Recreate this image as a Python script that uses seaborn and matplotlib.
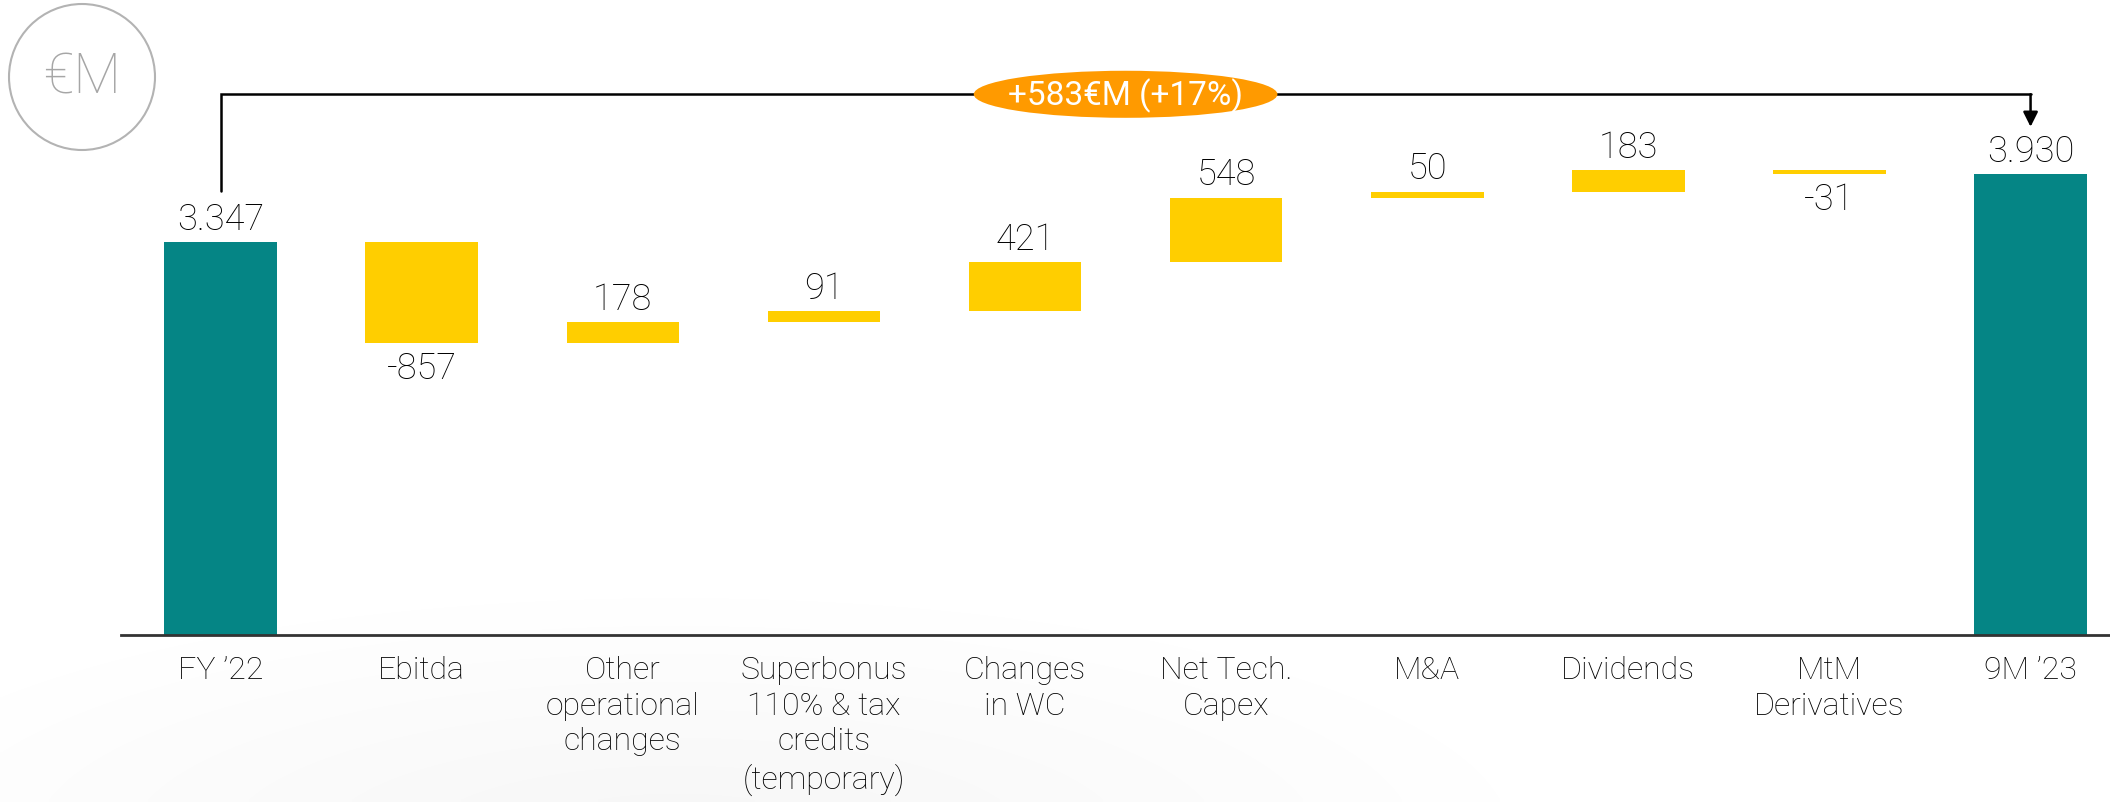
import numpy as np
import matplotlib.pyplot as plt
import seaborn as sns
import pandas as pd
from matplotlib.patches import Ellipse

# ===============================
# Data (€M)
# ===============================
categories = ["FY \u201922", "Ebitda", "Other\noperational\nchanges",
              "Superbonus\n110% & tax\ncredits\n(temporary)", "Changes\nin WC",
              "Net Tech.\nCapex", "M&A", "Dividends", "MtM\nDerivatives", "9M \u201923"]
deltas = [3347, -857, 178, 91, 421, 548, 50, 183, -31, 3930]
is_total = [True, False, False, False, False, False, False, False, False, True]
value_labels = ["3.347", "-857", "178", "91", "421", "548", "50", "183", "-31", "3.930"]

TEAL = "#058585"
YELLOW = "#FFCE00"
ORANGE = "#FF9A00"
TEXT = "#000000"

# ===============================
# Waterfall bases
# ===============================
bottoms, heights = [], []
running = 0
for d, tot in zip(deltas, is_total):
    if tot:
        bottoms.append(0)
        running = d
    else:
        bottoms.append(running)
        running += d
    heights.append(d)

df = pd.DataFrame({"category": categories, "height": heights, "bottom": bottoms})

# ===============================
# Plot
# ===============================
sns.set_style("white")
plt.rcParams["font.family"] = ["Roboto", "DejaVu Sans"]

fig = plt.figure(figsize=(21.1, 8.03), dpi=100)
ax = fig.add_axes([0, 0, 1, 1])

# faint grey shading in the lower left (slide background)
gx, gy = np.meshgrid(np.linspace(0, 1, 400), np.linspace(0, 1, 160))
shade = np.clip(1 - np.sqrt(((gx - 0.32) / 0.42) ** 2 + ((gy + 0.05) / 0.32) ** 2), 0, 1)
ax.imshow(shade, cmap="Greys", vmin=0, vmax=14, origin="lower", extent=(0, 1, 0, 1),
          transform=ax.transAxes, aspect="auto", zorder=0, interpolation="bilinear")

sns.barplot(data=df, x="category", y="height", bottom=df["bottom"].values,
            color=YELLOW, saturation=1, width=0.56, ax=ax, zorder=2)
for patch, tot in zip(ax.patches, is_total):
    patch.set_facecolor(TEAL if tot else YELLOW)
    patch.set_edgecolor("none")

# value labels
for i, (d, b, tot, lab) in enumerate(zip(deltas, bottoms, is_total, value_labels)):
    if d >= 0:
        ax.annotate(lab, (i, b + d), xytext=(0, 4), textcoords="offset points",
                    ha="center", va="bottom", fontsize=26, fontweight="light", color=TEXT)
    else:
        ax.annotate(lab, (i, b + d), xytext=(0, -5), textcoords="offset points",
                    ha="center", va="top", fontsize=26, fontweight="light", color=TEXT)

# axes styling
ax.set_xlim(-1.097, 9.395)
ax.set_ylim(-1421, 5422)
ax.set_xlabel("")
ax.set_ylabel("")
ax.set_yticks([])
for s in ["top", "left", "right"]:
    ax.spines[s].set_visible(False)
ax.spines["bottom"].set_position(("data", 0))
ax.spines["bottom"].set_bounds(-0.495, 9.395)
ax.spines["bottom"].set_color("#333333")
ax.spines["bottom"].set_linewidth(2)
ax.set_xticks(range(len(categories)))
ax.set_xticklabels(categories, fontsize=23, fontweight="light", color=TEXT, linespacing=1.3)
ax.tick_params(axis="x", length=0, pad=14)

# bracket with change annotation
start, end = deltas[0], deltas[-1]
bracket_y = max(start, end) + 680
ax.plot([0, 0, 9], [start + 436, bracket_y, bracket_y], color="black", lw=1.8,
        solid_joinstyle="miter")
ax.annotate("", xy=(9, end + 403), xytext=(9, bracket_y),
            arrowprops=dict(arrowstyle="-|>", color="black", lw=1.8, mutation_scale=22,
                            shrinkA=0, shrinkB=0))
ax.add_patch(Ellipse((4.5, bracket_y), 1.51, 401, facecolor=ORANGE, edgecolor="none", zorder=5))
diff = end - start
ax.text(4.5, bracket_y, f"+{diff}\u20acM (+{round(diff / start * 100)}%)", ha="center",
        va="center", color="white", fontsize=24, zorder=6)

# unit badge
ax.add_patch(Ellipse((82 / 2110, 1 - 78 / 803), 146 / 2110, 146 / 803, transform=ax.transAxes,
                     facecolor="none", edgecolor="#b3b3b3", lw=1.5))
ax.text(82 / 2110, 1 - 78 / 803, "\u20acM", transform=ax.transAxes, ha="center", va="center",
        fontsize=40, fontweight="light", color="#a6a6a6")

fig.savefig("out.png", dpi=100)
